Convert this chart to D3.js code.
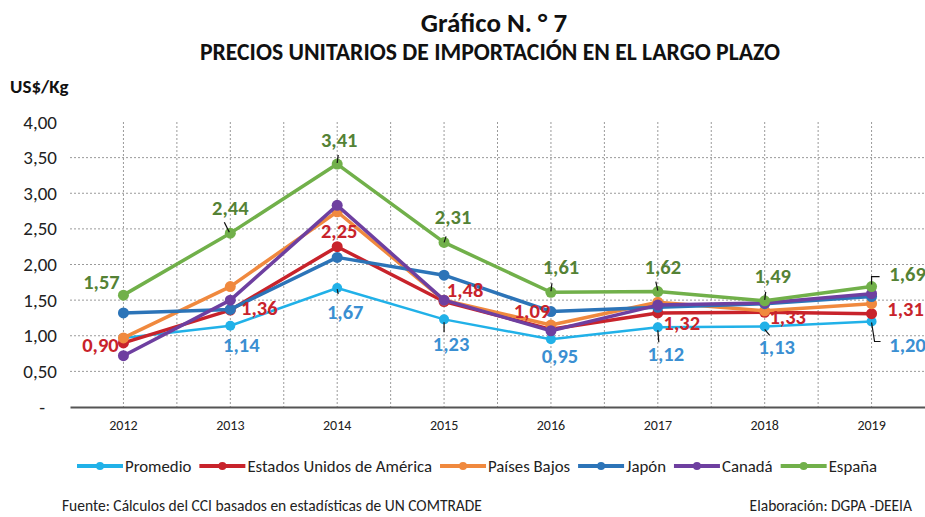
<!DOCTYPE html>
<html>
<head>
<meta charset="utf-8">
<script src="https://cdn.jsdelivr.net/npm/d3@7/dist/d3.min.js"></script>
<style>
  html, body { margin: 0; padding: 0; background: #fff; }
  svg { display: block; font-family: Carlito, Calibri, Lato, "Noto Sans", sans-serif; }
</style>
</head>
<body>
<svg id="chart" width="925" height="517"></svg>
<script>
// ---------- DATA ----------
const years = ["2012", "2013", "2014", "2015", "2016", "2017", "2018", "2019"];
const yTicks = [0, 0.5, 1, 1.5, 2, 2.5, 3, 3.5, 4];
const seriesNames = ["Promedio", "Estados Unidos de América", "Países Bajos", "Japón", "Canadá", "España"];
const promedio   = [0.97, 1.14, 1.67, 1.23, 0.95, 1.12, 1.13, 1.20];
const usa        = [0.90, 1.36, 2.25, 1.48, 1.09, 1.32, 1.33, 1.31];
const paisesBajos= [0.97, 1.69, 2.74, 1.50, 1.15, 1.47, 1.35, 1.45];
const japon      = [1.32, 1.37, 2.10, 1.85, 1.34, 1.40, 1.45, 1.55];
const canada     = [0.72, 1.50, 2.83, 1.50, 1.07, 1.43, 1.46, 1.59];
const espana     = [1.57, 2.44, 3.41, 2.31, 1.61, 1.62, 1.49, 1.69];
const seriesValues = [promedio, usa, paisesBajos, japon, canada, espana];
// which points carry a data label
const promedioLabelled = [false, true, true, true, true, true, true, true];
const usaLabelled      = [true, true, true, true, true, true, true, true];
const espanaLabelled   = [true, true, true, true, true, true, true, true];

// ---------- STYLE ----------
const lineColors  = ["#21B1E8", "#C8232B", "#F0893E", "#2C74B8", "#6E3FA0", "#71B04A"];
const lineWidths  = [2.5, 3.5, 3.5, 3.5, 3.5, 3.5];
const labelColors = { 0: "#3A8FD2", 1: "#C8232B", 5: "#548235" };

// label placement relative to point: [dx center, dy baseline]
const labelOffsets = {
  5: [[-22,-6],[0,-18],[2,-17],[9,-18],[10,-18],[5,-18],[8,-18],[36,-6]],
  1: [[-23,9],[29,5],[2,-9],[21,-5],[-19,-11],[24,17],[23,12],[34,2]],
  0: [null,[11,26],[8,31],[7,32],[9,24],[8,34],[12,28],[36,30]]
};
// leader lines relative to point
const leaders = {
  5: [null, [[-6,-11],[-1,-1]], [[1,-9],[0,-1]], [[2,-6],[0,0]], [[1,-9],[0,-1]], [[-2,-10],[0,-1]], [[1,-9],[0,-1]], [[0,-2],[0,-10],[8,-10]]],
  1: [null,null,null,null,null,null,null,null],
  0: [null, null, [[1,6],[0,1]], [[0,13],[0,3]], null, [[1,15],[0,3]], [[5,9],[0,3]], [[0,1],[3,20],[9,20]]]
};

// ---------- CHART ----------
const svg = d3.select("#chart");
const plotLeft = 70, plotRight = 925, plotTop = 122, plotBottom = 407;

const x = d3.scaleBand().domain(years).range([plotLeft, plotRight]);
const xc = d => x(d) + x.bandwidth() / 2;
const y = d3.scaleLinear().domain([0, 4]).range([plotBottom, plotTop]);

const fmt = v => v === 0 ? "-" : d3.format(".2f")(v).replace(".", ",");
const fmtLabel = v => d3.format(".2f")(v).replace(".", ",");

// Titles
svg.append("text").attr("x", 494).attr("y", 32).attr("text-anchor", "middle")
  .attr("font-size", 27).attr("font-weight", "bold").attr("fill", "#111").text("Gráfico N. ° 7");
svg.append("text").attr("x", 490).attr("y", 60).attr("text-anchor", "middle")
  .attr("font-size", 23.7).attr("font-weight", "bold").attr("fill", "#111")
  .text("PRECIOS UNITARIOS DE IMPORTACIÓN EN EL LARGO PLAZO");
svg.append("text").attr("x", 10).attr("y", 93)
  .attr("font-size", 19).attr("font-weight", "bold").attr("fill", "#111").text("US$/Kg");

// Horizontal gridlines
const grid = svg.append("g");
grid.selectAll("line.h").data(yTicks.filter(t => t > 0 && t < 4)).join("line")
  .attr("x1", plotLeft).attr("x2", plotRight)
  .attr("y1", d => y(d)).attr("y2", d => y(d))
  .attr("stroke", "#9a9a9a").attr("stroke-width", 1).attr("stroke-dasharray", "2,2");
// Vertical gridlines at category centers and interior boundaries
const vLines = years.map(xc).concat(years.slice(1).map(d => x(d)));
grid.selectAll("line.v").data(vLines).join("line")
  .attr("x1", d => d).attr("x2", d => d)
  .attr("y1", y(4)).attr("y2", plotBottom)
  .attr("stroke", "#9a9a9a").attr("stroke-width", 1).attr("stroke-dasharray", "2,2");

// Y axis (labels only)
const yAxis = d3.axisLeft(y).tickValues(yTicks).tickFormat(fmt).tickSize(0).tickPadding(0);
const yg = svg.append("g").attr("transform", `translate(57,0)`).call(yAxis);
yg.select(".domain").remove();
yg.selectAll("text").attr("font-size", 19).attr("fill", "#222")
  .attr("font-family", "Carlito, Calibri, Lato, sans-serif");
yg.selectAll(".tick").filter(d => d === 0).select("text").attr("dx", -12);

// X axis
const xAxis = d3.axisBottom(x).tickSize(0).tickPadding(13);
const xg = svg.append("g").attr("transform", `translate(0,${plotBottom})`).call(xAxis);
xg.select(".domain").attr("stroke", "#555").attr("stroke-width", 2);
xg.selectAll("text").attr("font-size", 14).attr("fill", "#222")
  .attr("font-family", "Carlito, Calibri, Lato, sans-serif");

// Lines
const line = d3.line().x((d, i) => xc(years[i])).y(d => y(d));
const seriesG = svg.append("g");
seriesValues.forEach((vals, s) => {
  const g = seriesG.append("g");
  g.append("path").datum(vals).attr("d", line).attr("fill", "none")
    .attr("stroke", lineColors[s]).attr("stroke-width", lineWidths[s])
    .attr("stroke-linejoin", "round");
  g.selectAll("circle").data(vals).join("circle")
    .attr("cx", (d, i) => xc(years[i])).attr("cy", d => y(d))
    .attr("r", s === 0 ? 5 : 5.5).attr("fill", lineColors[s]);
});

// Leaders and labels
const labelled = { 0: promedioLabelled, 1: usaLabelled, 5: espanaLabelled };
const labG = svg.append("g");
[0, 1, 5].forEach(s => {
  seriesValues[s].forEach((v, i) => {
    if (!labelled[s][i]) return;
    const px = xc(years[i]), py = y(v);
    const ld = leaders[s][i];
    if (ld) {
      labG.append("path")
        .attr("d", d3.line()(ld.map(p => [px + p[0], py + p[1]])))
        .attr("fill", "none").attr("stroke", "#111").attr("stroke-width", 1.2);
    }
    const off = labelOffsets[s][i];
    labG.append("text").attr("x", px + off[0]).attr("y", py + off[1])
      .attr("text-anchor", "middle").attr("font-size", 20.5).attr("font-weight", "bold")
      .attr("fill", labelColors[s]).text(fmtLabel(v));
  });
});

// Legend
const legend = svg.append("g").attr("transform", "translate(77,466)");
let lx = 0;
seriesNames.forEach((name, s) => {
  const g = legend.append("g").attr("transform", `translate(${lx},0)`);
  g.append("line").attr("x1", 0).attr("x2", 46).attr("y1", 0).attr("y2", 0)
    .attr("stroke", lineColors[s]).attr("stroke-width", 4);
  g.append("circle").attr("cx", 23).attr("cy", 0).attr("r", 4).attr("fill", lineColors[s]);
  const t = g.append("text").attr("x", 48).attr("y", 6).attr("font-size", 16.8)
    .attr("fill", "#222").text(name);
  lx += 48 + t.node().getComputedTextLength() + 8;
});

// Footer
svg.append("text").attr("x", 62).attr("y", 511).attr("font-size", 15.5).attr("fill", "#222")
  .text("Fuente: Cálculos del CCI basados en estadísticas de UN COMTRADE");
svg.append("text").attr("x", 912).attr("y", 511).attr("text-anchor", "end").attr("font-size", 15.5)
  .attr("fill", "#222").text("Elaboración: DGPA -DEEIA");
</script>
</body>
</html>
